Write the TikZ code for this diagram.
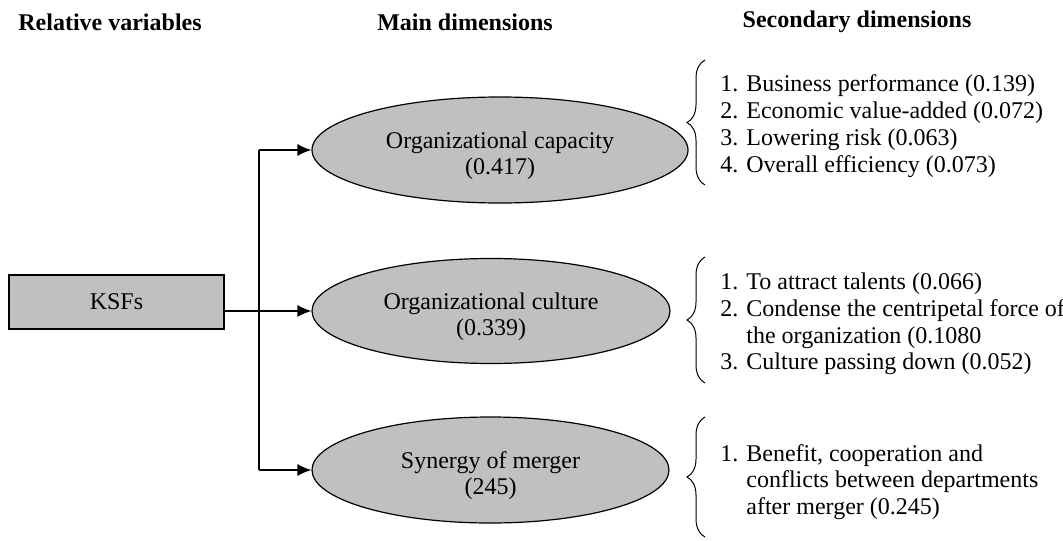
\documentclass[tikz,border=0pt]{standalone}
\usepackage{fontspec}
\setmainfont{Liberation Serif}
\usetikzlibrary{arrows.meta,decorations.pathreplacing,shapes.geometric}
\definecolor{boxgray}{HTML}{C0C0C0}
\tikzset{
  hdr/.style={font=\fontsize{12}{13.8}\selectfont\bfseries, inner sep=0pt},
  dimell/.style={ellipse, draw, fill=boxgray, line width=0.6pt, inner sep=0pt,
    align=center, font=\fontsize{12}{13.2}\selectfont},
  ksfbox/.style={rectangle, draw, fill=boxgray, line width=0.6pt, inner sep=0pt,
    font=\fontsize{12}{13.2}\selectfont},
  conn/.style={line width=0.6pt, -{Latex[length=7pt,width=6pt]}},
  plain/.style={line width=0.6pt},
  brc/.style={decorate, decoration={brace, amplitude=9pt}, line width=0.5pt},
  items/.style={align=left, anchor=west, inner sep=0pt, font=\fontsize{12}{13.4}\selectfont}
}
\newcommand{\dropstrut}{\rule{0pt}{14pt}}
\begin{document}
\begin{tikzpicture}[x=0.5pt,y=-0.5pt]
\useasboundingbox (0,0) rectangle (1063,540);
% headers
\node[hdr] (h1) at (110,22) {Relative variables};
\node[hdr] (h2) at (465,22) {Main dimensions};
\node[hdr] (h3) at (857,22) {Secondary dimensions};
% KSFs
\node[ksfbox, minimum width=107.5pt, minimum height=27pt] (ksf) at (116.5,302) {\raisebox{-1.5pt}{KSFs}};
% ellipses
\node[dimell, minimum width=188pt, minimum height=53pt] (e1) at (500,150) {\dropstrut Organizational capacity\\(0.417)};
\node[dimell, minimum width=179pt, minimum height=52.5pt] (e2) at (491,311) {\dropstrut Organizational culture\\(0.339)};
\node[dimell, minimum width=178.5pt, minimum height=53pt] (e3) at (490.5,470) {\dropstrut Synergy of merger\\(245)};
% connectors
\coordinate (j1) at (259,150);
\coordinate (j3) at (259,470);
\coordinate (ks) at (224,311);
\draw[plain] (j1) -- (j3);
\draw[conn] (j1) -- (e1.west);
\draw[conn] (ks) -- (e2.west);
\draw[conn] (j3) -- (e3.west);
% braces
\coordinate (b1s) at (705,185); \coordinate (b1e) at (705,60);
\coordinate (b2s) at (705,383); \coordinate (b2e) at (705,257);
\coordinate (b3s) at (705,537); \coordinate (b3e) at (705,417);
\draw[brc] (b1s) -- (b1e);
\draw[brc] (b2s) -- (b2e);
\draw[brc] (b3s) -- (b3e);
% item lists
\node[items] (t1) at (720,126) {1. Business performance (0.139)\\2. Economic value-added (0.072)\\3. Lowering risk (0.063)\\4. Overall efficiency (0.073)};
\node[items] (t2) at (720,324) {1. To attract talents (0.066)\\2. Condense the centripetal force of\\\hphantom{2. }the organization (0.1080\\3. Culture passing down (0.052)};
\node[items] (t3) at (720,482) {1. Benefit, cooperation and\\\hphantom{1. }conflicts between departments\\\hphantom{1. }after merger (0.245)};
\end{tikzpicture}
\end{document}
